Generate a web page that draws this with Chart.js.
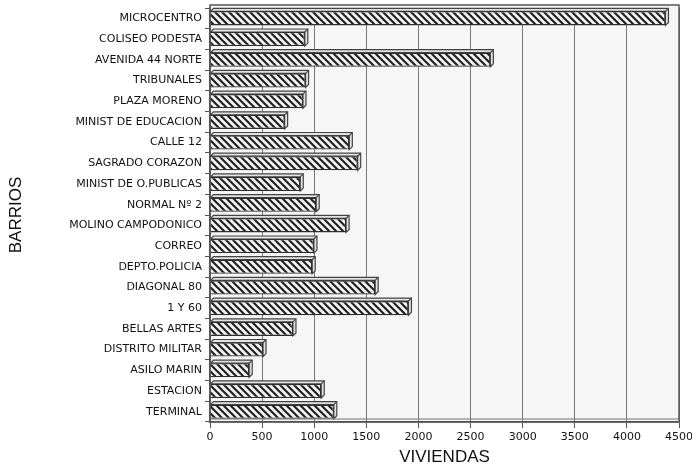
<!DOCTYPE html>
<html>
<head>
<meta charset="utf-8">
<script src="https://cdn.jsdelivr.net/npm/chart.js@4.4.1/dist/chart.umd.min.js"></script>
<style>
html,body{margin:0;padding:0;background:#fff;}
#wrap{width:692px;height:471px;position:relative;}
</style>
</head>
<body>
<div id="wrap"><canvas id="c" width="692" height="471"></canvas></div>
<script>
const barrios = [
  "MICROCENTRO","COLISEO PODESTA","AVENIDA 44 NORTE","TRIBUNALES","PLAZA MORENO",
  "MINIST DE EDUCACION","CALLE 12","SAGRADO CORAZON","MINIST DE O.PUBLICAS","NORMAL Nº 2",
  "MOLINO CAMPODONICO","CORREO","DEPTO.POLICIA","DIAGONAL 80","1 Y 60",
  "BELLAS ARTES","DISTRITO MILITAR","ASILO MARIN","ESTACION","TERMINAL"
];
const viviendas = [
  4370, 910, 2690, 917, 892,
  716, 1337, 1417, 866, 1019,
  1306, 997, 981, 1585, 1904,
  796, 509, 376, 1067, 1188
];
const xTicks = [0,500,1000,1500,2000,2500,3000,3500,4000,4500];
const yTitle = "BARRIOS";
const xTitle = "VIVIENDAS";

function hatch(){
  const s = 7;
  const p = document.createElement('canvas');
  p.width = s; p.height = s;
  const g = p.getContext('2d');
  g.fillStyle = '#f4f4f4';
  g.fillRect(0,0,s,s);
  g.strokeStyle = '#222';
  g.lineWidth = 2.2;
  g.beginPath();
  g.moveTo(-s,0); g.lineTo(s,2*s);
  g.moveTo(0,0); g.lineTo(s,s);
  g.moveTo(0,-s); g.lineTo(2*s,s);
  g.stroke();
  return document.getElementById('c').getContext('2d').createPattern(p,'repeat');
}

const DEPTH = 3;
const bgPlugin = {
  id:'bg',
  beforeDraw(chart){
    const {ctx, chartArea:a} = chart;
    ctx.save();
    ctx.fillStyle = '#f6f6f6';
    ctx.fillRect(a.left, a.top-DEPTH, a.right-a.left, a.bottom-a.top+DEPTH);
    ctx.restore();
  }
};
const depthPlugin = {
  id:'depth',
  beforeDatasetsDraw(chart){
    const {ctx} = chart;
    const meta = chart.getDatasetMeta(0);
    ctx.save();
    ctx.fillStyle = '#e2e2e2';
    ctx.strokeStyle = '#444';
    ctx.lineWidth = 1.2;
    meta.data.forEach(el=>{
      const {x, y, base, height} = el.getProps(['x','y','base','height'], true);
      const top = y - height/2, bot = y + height/2;
      ctx.beginPath();
      ctx.moveTo(base, top);
      ctx.lineTo(base+DEPTH, top-DEPTH);
      ctx.lineTo(x+DEPTH, top-DEPTH);
      ctx.lineTo(x+DEPTH, bot-DEPTH);
      ctx.lineTo(x, bot);
      ctx.lineTo(x, top);
      ctx.closePath();
      ctx.fill();
      ctx.stroke();
      ctx.beginPath();
      ctx.moveTo(x, top); ctx.lineTo(x+DEPTH, top-DEPTH);
      ctx.stroke();
    });
    ctx.restore();
  }
};
const framePlugin = {
  id:'frame',
  afterDraw(chart){
    const {ctx, chartArea:a} = chart;
    ctx.save();
    ctx.strokeStyle = '#555';
    ctx.lineWidth = 1.5;
    ctx.strokeRect(a.left, a.top-DEPTH, a.right-a.left, a.bottom-a.top+DEPTH);
    ctx.beginPath();
    ctx.strokeStyle = '#777';
    ctx.lineWidth = 1;
    ctx.moveTo(a.left, a.bottom-DEPTH);
    ctx.lineTo(a.right, a.bottom-DEPTH);
    ctx.stroke();
    ctx.restore();
  }
};

const font = "'DejaVu Sans', Verdana, sans-serif";
const titleFont = "'Liberation Sans', Arial, Helvetica, sans-serif";
new Chart(document.getElementById('c'), {
  type:'bar',
  data:{
    labels: barrios,
    datasets:[{
      data: viviendas,
      backgroundColor: hatch(),
      borderColor:'#2e2e2e',
      borderWidth:1.3,
      barPercentage:0.68,
      categoryPercentage:1.0
    }]
  },
  options:{
    indexAxis:'y',
    responsive:false,
    animation:false,
    layout:{padding:{top:8,right:13,left:0,bottom:0}},
    plugins:{legend:{display:false},tooltip:{enabled:false}},
    scales:{
      x:{
        min:0,max:4500,
        afterBuildTicks(scale){ scale.ticks = xTicks.map(v=>({value:v})); },
        afterFit(scale){ scale.height = 49; scale.paddingLeft = 0; scale.paddingRight = 0; },
        grid:{color:'#7a7a7a',lineWidth:1,tickLength:6,tickColor:'#555'},
        border:{color:'#555',width:1.5},
        ticks:{color:'#111',font:{family:font,size:11},padding:3,maxRotation:0,
               callback:(v)=>String(v)},
        title:{display:true,text:xTitle,color:'#111',font:{family:titleFont,size:17},padding:{top:0,bottom:3}}
      },
      y:{
        afterFit(scale){ scale.width = 210; scale.paddingTop = 0; scale.paddingBottom = 0; },
        grid:{drawOnChartArea:false,offset:true,tickLength:5,tickColor:'#555'},
        border:{color:'#555',width:1.5},
        ticks:{color:'#111',font:{family:font,size:11},padding:3,autoSkip:false},
        title:{display:true,text:yTitle,color:'#111',font:{family:titleFont,size:17},padding:{top:6,bottom:0}}
      }
    }
  },
  plugins:[bgPlugin, depthPlugin, framePlugin]
});
</script>
</body>
</html>
